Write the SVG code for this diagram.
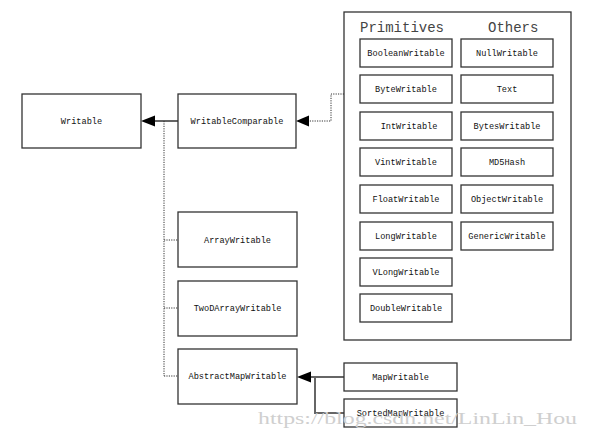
<svg xmlns="http://www.w3.org/2000/svg" width="589" height="439" viewBox="0 0 589 439">
<style>
.box{fill:#fff;stroke:#333;stroke-width:1.3}
.t{font-family:"Liberation Mono","DejaVu Sans Mono",monospace;font-size:8.6px;fill:#111;text-anchor:middle}
.h{font-family:"Liberation Mono","DejaVu Sans Mono",monospace;font-size:14px;fill:#444}
.dot{fill:none;stroke:#333;stroke-width:1;stroke-dasharray:1.2,1.2}
.solid{fill:none;stroke:#111;stroke-width:1.3}
.gray{fill:none;stroke:#666;stroke-width:2}
.wm{font-family:"Liberation Serif",serif;font-size:17.5px;fill:#cfcfcf}
</style>
<rect width="589" height="439" fill="#fff"/>
<g id="connectors">
<path class="solid" d="M178,121 H154"/>
<polygon points="141,121 155,115.5 155,126.5" fill="#000"/>
<path class="dot" d="M164,121 V376 M164,240 H178 M164,308 H178 M164,376 H178"/>
<path class="dot" d="M344,94 H331 V121 H309"/>
<polygon points="296,121 309,115.5 309,126.5" fill="#000"/>
<path class="gray" d="M344,377 H311 M315,377 V413 H344"/>
<polygon points="297,377 311,371.5 311,382.5" fill="#000"/>
</g>
<g id="Writable"><rect class="box" x="22" y="94" width="119" height="54"/><text class="t" x="81.5" y="124">Writable</text></g>
<g id="WritableComparable"><rect class="box" x="178" y="94" width="118" height="54"/><text class="t" x="237" y="124">WritableComparable</text></g>
<g id="ArrayWritable"><rect class="box" x="178" y="212" width="119" height="55"/><text class="t" x="237.5" y="243">ArrayWritable</text></g>
<g id="TwoDArrayWritable"><rect class="box" x="178" y="281" width="119" height="55"/><text class="t" x="237.5" y="311">TwoDArrayWritable</text></g>
<g id="AbstractMapWritable"><rect class="box" x="178" y="349" width="119" height="55"/><text class="t" x="237.5" y="379">AbstractMapWritable</text></g>
<g id="MapWritable"><rect class="box" x="344" y="363" width="113" height="28"/><text class="t" x="400.5" y="380">MapWritable</text></g>
<g id="SortedMapWritable"><rect class="box" x="344" y="399" width="113" height="28"/><text class="t" x="400.5" y="416">SortedMapWritable</text></g>
<g id="Container">
<rect class="box" x="344" y="12" width="227" height="328"/>
<text class="h" x="360" y="32">Primitives</text>
<text class="h" x="488" y="32">Others</text>
</g>
<g id="BooleanWritable"><rect class="box" x="360" y="39" width="92" height="28"/><text class="t" x="406" y="56">BooleanWritable</text></g>
<g id="ByteWritable"><rect class="box" x="360" y="75" width="92" height="28"/><text class="t" x="406" y="92">ByteWritable</text></g>
<g id="IntWritable"><rect class="box" x="360" y="112" width="92" height="28"/><text class="t" x="409" y="129">IntWritable</text></g>
<g id="VintWritable"><rect class="box" x="360" y="148" width="92" height="28"/><text class="t" x="406" y="165">VintWritable</text></g>
<g id="FloatWritable"><rect class="box" x="360" y="185" width="92" height="28"/><text class="t" x="406" y="202">FloatWritable</text></g>
<g id="LongWritable"><rect class="box" x="360" y="222" width="92" height="28"/><text class="t" x="406" y="239">LongWritable</text></g>
<g id="VLongWritable"><rect class="box" x="360" y="258" width="92" height="28"/><text class="t" x="406" y="275">VLongWritable</text></g>
<g id="DoubleWritable"><rect class="box" x="360" y="294" width="92" height="28"/><text class="t" x="406" y="311">DoubleWritable</text></g>
<g id="NullWritable"><rect class="box" x="461" y="39" width="92" height="28"/><text class="t" x="507" y="56">NullWritable</text></g>
<g id="Text"><rect class="box" x="461" y="75" width="92" height="28"/><text class="t" x="507" y="92">Text</text></g>
<g id="BytesWritable"><rect class="box" x="461" y="112" width="92" height="28"/><text class="t" x="507" y="129">BytesWritable</text></g>
<g id="MD5Hash"><rect class="box" x="461" y="148" width="92" height="28"/><text class="t" x="507" y="165">MD5Hash</text></g>
<g id="ObjectWritable"><rect class="box" x="461" y="185" width="92" height="28"/><text class="t" x="507" y="202">ObjectWritable</text></g>
<g id="GenericWritable"><rect class="box" x="461" y="222" width="92" height="28"/><text class="t" x="507" y="239">GenericWritable</text></g>
<text class="wm" x="258" y="424" textLength="319" lengthAdjust="spacingAndGlyphs">https://blog.csdn.net/LinLin_Hou</text>
</svg>
